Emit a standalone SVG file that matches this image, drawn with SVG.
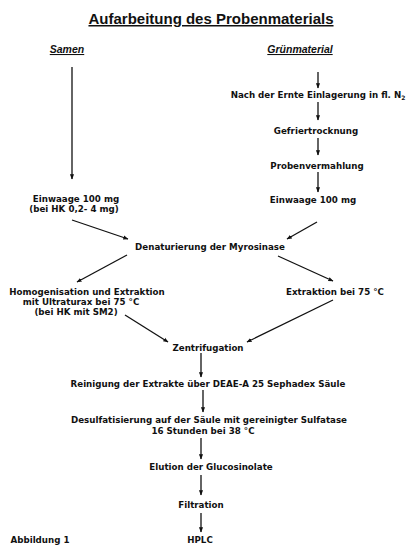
<svg xmlns="http://www.w3.org/2000/svg" width="409" height="545" viewBox="0 0 409 545">
<style>
text{font-family:"DejaVu Sans","Liberation Sans",Arial,sans-serif;font-weight:bold;fill:#111;font-size:8.7px;text-anchor:middle}
.t{font-family:"Liberation Sans",Arial,sans-serif;font-size:15px;text-decoration:underline}
.h{font-family:"Liberation Sans",Arial,sans-serif;font-size:10.5px;font-style:italic;text-decoration:underline}
.c line{stroke:#111;stroke-width:1.3;marker-end:url(#a)}
</style>
<defs>
<marker id="a" viewBox="0 0 10 10" refX="9" refY="5" markerWidth="4" markerHeight="4" orient="auto" markerUnits="strokeWidth">
<path d="M0,1 L10,5 L0,9 z" fill="#111"/>
</marker>
</defs>
<g id="title"><text class="t" x="211" y="24">Aufarbeitung des Probenmaterials</text></g>
<g id="samen"><text class="h" x="67" y="53">Samen</text></g>
<g id="gruen"><text class="h" x="300" y="53">Grünmaterial</text></g>
<g id="ernte"><text x="318" y="98">Nach der Ernte Einlagerung in fl. N<tspan font-size="6" dy="2">2</tspan></text></g>
<g id="gefrier"><text x="316" y="134">Gefriertrocknung</text></g>
<g id="vermahl"><text x="317" y="169">Probenvermahlung</text></g>
<g id="einwaage-r"><text x="313" y="203">Einwaage 100 mg</text></g>
<g id="einwaage-l"><text x="76" y="202">Einwaage  100 mg</text><text x="74" y="212">(bei HK 0,2- 4 mg)</text></g>
<g id="denat"><text x="210" y="250">Denaturierung der Myrosinase</text></g>
<g id="homog"><text x="87" y="295">Homogenisation und Extraktion</text><text x="81" y="305">mit Ultraturax bei 75 °C</text><text x="76" y="315">(bei HK mit SM2)</text></g>
<g id="extr"><text x="335" y="295">Extraktion bei 75 °C</text></g>
<g id="zentri"><text x="208" y="351">Zentrifugation</text></g>
<g id="rein"><text x="208" y="387">Reinigung der Extrakte über DEAE-A 25 Sephadex Säule</text></g>
<g id="desulf"><text x="209" y="423">Desulfatisierung auf der Säule mit gereinigter Sulfatase</text><text x="203" y="434">16 Stunden bei 38 °C</text></g>
<g id="elution"><text x="211" y="470">Elution der Glucosinolate</text></g>
<g id="filt"><text x="201" y="508">Filtration</text></g>
<g id="hplc"><text x="200" y="543">HPLC</text></g>
<g id="abb"><text x="40" y="543">Abbildung 1</text></g>
<g class="c" id="connectors">
<line x1="72" y1="67" x2="72" y2="179"/>
<line x1="318" y1="72" x2="318" y2="88"/>
<line x1="318" y1="102" x2="318" y2="120"/>
<line x1="318" y1="138" x2="318" y2="155"/>
<line x1="318" y1="172" x2="318" y2="192"/>
<line x1="72" y1="220" x2="128" y2="239"/>
<line x1="317" y1="222" x2="287" y2="239"/>
<line x1="127" y1="255" x2="77" y2="282"/>
<line x1="278" y1="256" x2="333" y2="281"/>
<line x1="125" y1="315" x2="168" y2="342"/>
<line x1="333" y1="300" x2="247" y2="342"/>
<line x1="201" y1="353" x2="201" y2="377"/>
<line x1="203" y1="390" x2="203" y2="412"/>
<line x1="201" y1="438" x2="201" y2="459"/>
<line x1="201" y1="475" x2="201" y2="495"/>
<line x1="201" y1="513" x2="201" y2="532"/>
</g>
</svg>
